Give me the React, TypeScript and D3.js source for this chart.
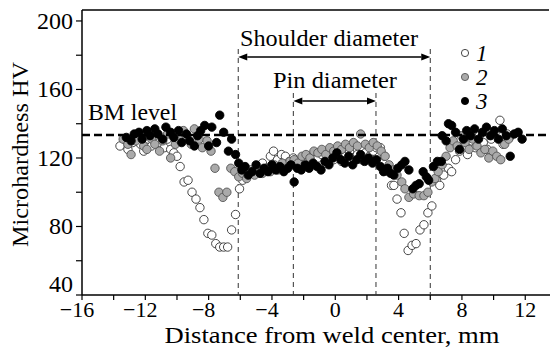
import React from "react";
import * as d3 from "d3";

const xTicksMajor = [-16, -12, -8, -4, 0, 4, 8, 12];
const xTicksMinor = [-14, -10, -6, -2, 2, 6, 10];
const yTicksMajor = [40, 80, 120, 160, 200];
const yTicksMinor = [60, 100, 140, 180];

const bmLevel = 133.4;
const shoulderEdges = [-6.13, 6.0];
const pinEdges = [-2.65, 2.57];
const legendLabels = ["1", "2", "3"];

const series1: [number, number][] = [
  [-13.6,127],[-13.3,131],[-13.1,125],[-12.8,129],[-12.6,133],[-12.3,128],[-12.1,124],[-11.8,131],[-11.6,127],[-11.3,133],[-11.1,129],[-10.8,126],[-10.6,131],[-10.4,125],[-10.2,123],
  [-10.0,121],[-9.8,115],[-9.55,106],[-9.3,107],[-9.05,100],[-8.8,96],[-8.55,91],[-8.3,84],[-8.05,76],[-7.8,75],[-7.55,70],[-7.3,68],[-7.05,68],[-6.8,68],[-6.55,78],[-6.3,87],[-6.05,102],
  [-5.85,107],[-5.6,110],[-5.35,113],[-5.1,111],[-4.85,115],[-4.6,117],[-4.35,114],[-4.1,121],[-3.9,124],[-3.65,119],[-3.4,122],[-3.15,121],[-2.9,118],[-2.65,120],[-2.4,116],[-2.15,119],[-1.9,117],[-1.65,121],[-1.4,118],[-1.1,120],[-0.85,122],[-0.6,117],[-0.35,121],[-0.1,119],[0.15,123],[0.4,118],[0.65,121],[0.9,124],[1.15,120],[1.4,122],[1.65,119],[1.9,123],[2.15,121],[2.4,124],[2.6,126],[2.85,126],[3.1,121],
  [3.35,112],[3.55,104],[3.7,104],[3.9,96],[4.15,88],[4.35,76],[4.6,66],[4.85,69],[5.1,70],[5.35,78],[5.6,81],[5.85,88],[6.1,92],[6.4,107],[6.6,104],[6.85,110],[7.15,114],[7.35,112],[7.6,119],
  [7.85,124],[8.1,127],[8.35,122],[8.6,130],[8.85,126],[9.1,133],[9.35,129],[9.6,125],[9.85,131],[10.1,135],[10.4,142],[10.6,128],[10.85,134],[11.0,132]
];

const series2: [number, number][] = [
  [-13.4,131],[-13.1,128],[-12.9,122],[-12.6,130],[-12.4,134],[-12.1,127],[-11.9,125],[-11.6,131],[-11.4,128],[-11.1,124],[-10.9,130],[-10.6,134],[-10.4,120],[-10.1,128],[-9.9,131],[-9.6,136],[-9.4,133],[-9.1,128],[-8.9,137],[-8.6,131],[-8.4,126],[-8.1,130],[-7.85,124],
  [-7.6,114],[-7.35,100],[-7.1,97],[-6.85,100],[-6.6,114],[-6.35,112],[-6.1,109],[-5.85,111],[-5.6,108],[-5.35,112],[-5.1,110],[-4.85,113],[-4.6,111],[-4.35,114],[-4.1,112],[-3.85,116],[-3.6,113],[-3.35,117],[-3.1,114],[-2.85,118],[-2.6,119],[-2.35,117],[-2.1,121],[-1.85,122],[-1.6,120],[-1.35,124],[-1.1,123],[-0.85,125],[-0.6,122],[-0.35,126],[-0.1,124],[0.15,127],[0.4,125],[0.65,128],[0.9,126],[1.15,129],[1.4,127],[1.6,134],[1.9,128],[2.15,126],[2.4,129],[2.65,127],[2.9,124],
  [3.15,121],[3.4,116],[3.65,113],[3.9,110],[4.2,106],[4.4,102],[4.65,97],[4.95,99],[5.3,98],[5.6,98],[5.85,100],[6.1,106],[6.3,108],[6.5,112],[6.75,116],[7.0,121],[7.25,126],[7.45,130],
  [7.7,127],[7.95,133],[8.2,129],[8.45,125],[8.7,131],[8.95,127],[9.2,123],[9.45,125],[9.7,120],[9.95,124],[10.2,121],[10.45,119],[10.7,128],[10.95,131]
];

const series3: [number, number][] = [
  [-13.2,132],[-12.9,130],[-12.7,134],[-12.4,135],[-12.2,131],[-11.9,136],[-11.7,133],[-11.4,137],[-11.2,134],[-10.9,131],[-10.7,138],[-10.4,135],[-10.2,132],[-9.9,136],[-9.7,129],[-9.4,134],[-9.2,130],[-8.9,127],[-8.7,133],[-8.5,136],[-8.25,139],[-8.0,127],[-7.8,138],[-7.5,129],[-7.3,145],[-7.05,135],[-6.75,124],[-6.55,131],[-6.3,122],
  [-6.1,117],[-5.9,113],[-5.7,115],[-5.5,110],[-5.25,112],[-5.0,116],[-4.75,111],[-4.5,114],[-4.25,112],[-4.0,116],[-3.75,113],[-3.5,115],[-3.25,112],[-3.0,114],[-2.8,116],[-2.6,106],[-2.4,114],[-2.15,113],[-1.9,116],[-1.65,114],[-1.4,117],[-1.15,115],[-0.9,113],[-0.65,118],[-0.4,116],[-0.15,120],[0.1,123],[0.35,119],[0.6,117],[0.85,121],[1.1,116],[1.35,119],[1.6,122],[1.85,118],[2.1,120],[2.35,117],[2.6,119],[2.85,115],
  [3.05,112],[3.3,114],[3.5,111],[3.7,110],[3.95,114],[4.2,116],[4.4,118],[4.65,113],[4.9,102],[5.1,104],[5.3,105],[5.55,112],[5.75,109],[5.9,107],[6.2,115],[6.45,118],[6.7,118],
  [6.75,133],[7.0,130],[7.15,140],[7.35,139],[7.6,135],[7.85,125],[8.1,131],[8.3,136],[8.55,133],[8.8,137],[9.05,131],[9.3,135],[9.55,138],[9.8,133],[10.05,136],[10.3,131],[10.55,137],[10.8,133],[11.05,121],[11.3,134],[11.55,135],[11.8,131]
];

const W = 550;
const H = 350;
const left = 82;
const right = 549;
const top = 10;
const bottom = 295;

const styles = [
  { fill: "#ffffff", stroke: "#333333" },
  { fill: "#aaaaaa", stroke: "#555555" },
  { fill: "#000000", stroke: "#000000" },
];

const fontStyle = { fontFamily: '"Liberation Serif", "DejaVu Serif", "Times New Roman", serif' };

export default function App() {
  const x = d3.scaleLinear().domain([-16, 13.5]).range([left, right]);
  const y = d3.scaleLinear().domain([40, 206.4]).range([bottom, top]);
  const all = [series1, series2, series3];
  const shoulderY = 57;
  const pinY = 101;

  const arrow = (x1: number, x2: number, yy: number, key: string) => {
    const ah = 9;
    const aw = 3.5;
    return (
      <g key={key}>
        <line x1={x1 + ah} x2={x2 - ah} y1={yy} y2={yy} stroke="#000" strokeWidth={1.5} />
        <path d={`M${x1},${yy} L${x1 + ah},${yy - aw} L${x1 + ah},${yy + aw} Z`} fill="#000" />
        <path d={`M${x2},${yy} L${x2 - ah},${yy - aw} L${x2 - ah},${yy + aw} Z`} fill="#000" />
      </g>
    );
  };

  return (
    <svg width={W} height={H} style={{ position: "absolute", left: 0, top: 0, background: "#fff", ...fontStyle }}>
      <rect x={0} y={0} width={W} height={H} fill="#fff" />
      <line x1={left} x2={right} y1={top} y2={top} stroke="#000" strokeWidth={1.5} />
      <line x1={left} x2={left} y1={top} y2={bottom} stroke="#000" strokeWidth={1.5} />
      <line x1={left} x2={W} y1={bottom} y2={bottom} stroke="#000" strokeWidth={1.5} />
      {shoulderEdges.map((v, i) => (
        <line key={"s" + i} x1={x(v)} x2={x(v)} y1={shoulderY - 8} y2={bottom} stroke="#333" strokeWidth={1} strokeDasharray="5,4" />
      ))}
      {pinEdges.map((v, i) => (
        <line key={"p" + i} x1={x(v)} x2={x(v)} y1={pinY - 8} y2={bottom} stroke="#333" strokeWidth={1} strokeDasharray="5,4" />
      ))}
      {all.map((s, si) => (
        <g key={"ser" + si}>
          {s.map(([px, py], i) => (
            <circle key={i} cx={x(px)} cy={y(py)} r={4.2} fill={styles[si].fill} stroke={styles[si].stroke} strokeWidth={0.9} />
          ))}
        </g>
      ))}
      <line x1={left} x2={W} y1={y(bmLevel)} y2={y(bmLevel)} stroke="#000" strokeWidth={2.5} strokeDasharray="8,4" />
      <text x={88} y={y(bmLevel) - 15} fontSize={24} textLength={89} lengthAdjust="spacingAndGlyphs" style={fontStyle}>BM level</text>
      {arrow(x(shoulderEdges[0]), x(shoulderEdges[1]), shoulderY, "sa")}
      {arrow(x(pinEdges[0]), x(pinEdges[1]), pinY, "pa")}
      <text x={329} y={shoulderY - 11} fontSize={24} textAnchor="middle" textLength={178} lengthAdjust="spacingAndGlyphs" style={fontStyle}>Shoulder diameter</text>
      <text x={335} y={pinY - 13} fontSize={24} textAnchor="middle" textLength={124} lengthAdjust="spacingAndGlyphs" style={fontStyle}>Pin diameter</text>
      {legendLabels.map((lab, i) => (
        <g key={"lg" + i}>
          <circle cx={465} cy={53 + i * 24} r={3.6} fill={styles[i].fill} stroke={styles[i].stroke} strokeWidth={0.9} />
          <text x={476} y={53 + i * 24 + 8} fontSize={23} fontStyle="italic" style={fontStyle}>{lab}</text>
        </g>
      ))}
      {xTicksMajor.concat(xTicksMinor).map((t) => (
        <line key={"xt" + t} x1={x(t)} x2={x(t)} y1={bottom} y2={bottom + 5} stroke="#000" strokeWidth={1.2} />
      ))}
      {xTicksMajor.map((t) => (
        <text key={"xl" + t} x={x(t) - (t < 0 ? 5 : 0)} y={317} fontSize={22} textAnchor="middle" style={fontStyle}>
          {t < 0 ? "\u2212" + Math.abs(t) : String(t)}
        </text>
      ))}
      {yTicksMajor.concat(yTicksMinor).map((t) => (
        <line key={"yt" + t} x1={left - 6} x2={left} y1={y(t)} y2={y(t)} stroke="#000" strokeWidth={1.2} />
      ))}
      {yTicksMajor.map((t) => (
        <text key={"yl" + t} x={left - 9} y={y(t) + (t === 40 ? -3 : 8)} fontSize={24} textAnchor="end" style={fontStyle}>{t}</text>
      ))}
      <text x={332} y={343} fontSize={22.5} textAnchor="middle" textLength={335} lengthAdjust="spacingAndGlyphs" style={fontStyle}>Distance from weld center, mm</text>
      <text transform={`translate(28, ${(top + bottom) / 2 + 2}) rotate(-90)`} fontSize={24} textAnchor="middle" textLength={185} lengthAdjust="spacingAndGlyphs" style={fontStyle}>Microhardness HV</text>
    </svg>
  );
}
